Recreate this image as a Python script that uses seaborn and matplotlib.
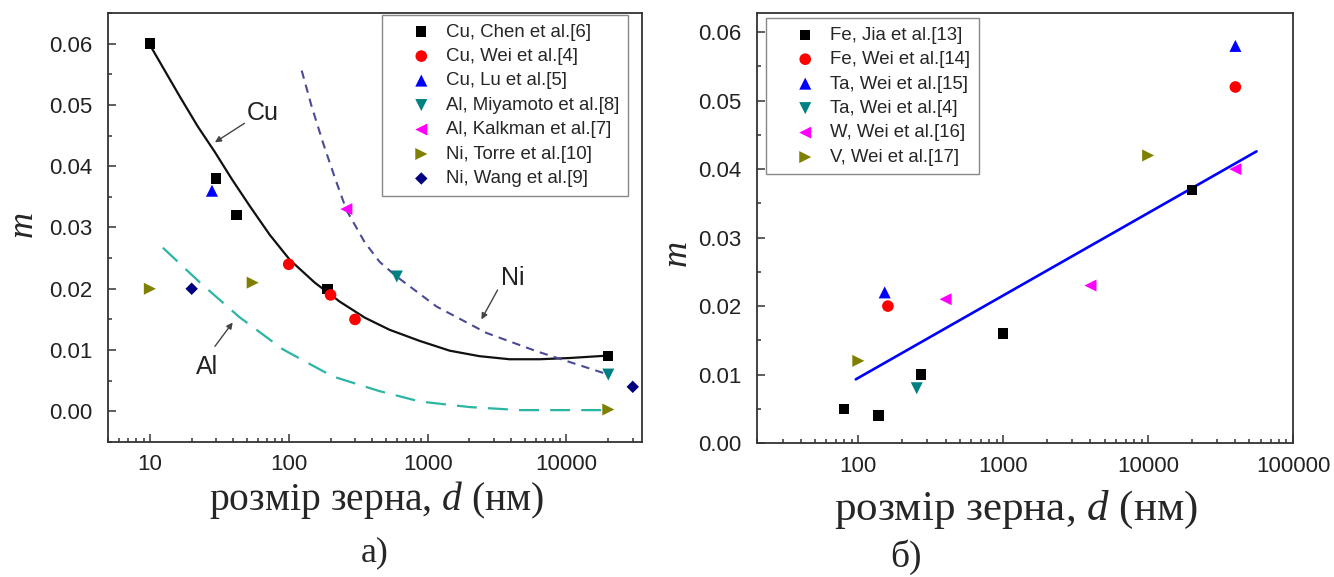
import matplotlib
matplotlib.use("Agg")
import matplotlib.pyplot as plt
import seaborn as sns
from matplotlib.ticker import FixedLocator, FixedFormatter, LogLocator, MultipleLocator, NullFormatter, FormatStrFormatter

# ---------------- panel а): measured strain-rate sensitivity ----------------
cu_chen_d = [10, 30, 42, 190, 20000]
cu_chen_m = [0.060, 0.038, 0.032, 0.020, 0.009]
cu_wei_d = [100, 200, 300]
cu_wei_m = [0.024, 0.019, 0.015]
cu_lu_d = [28]
cu_lu_m = [0.036]
al_miyamoto_d = [600, 20000]
al_miyamoto_m = [0.022, 0.006]
al_kalkman_d = [260]
al_kalkman_m = [0.033]
ni_torre_d = [10, 55, 20000]
ni_torre_m = [0.020, 0.021, 0.0003]
ni_wang_d = [20, 30000]
ni_wang_m = [0.020, 0.004]

# trend curves (panel а)
cu_curve_d = [10, 12.8, 16.4, 22.1, 29.4, 38.9, 52.4, 73, 102, 154, 233, 352, 533,
              875, 1440, 2365, 3890, 6400, 10500, 20000]
cu_curve_m = [0.0598, 0.0556, 0.0514, 0.0465, 0.0423, 0.0379, 0.0335, 0.0288, 0.0247,
              0.0210, 0.0179, 0.0153, 0.0133, 0.0115, 0.0099, 0.0090, 0.0085, 0.0085,
              0.0087, 0.0091]
al_curve_d = [12.4, 23, 44, 91, 207, 450, 880, 2000, 4600, 20000]
al_curve_m = [0.0267, 0.0210, 0.0154, 0.0101, 0.0057, 0.0033, 0.0016, 0.0007, 0.0002, 0.0002]
ni_curve_d = [124, 146, 179, 218, 261, 352, 451, 598, 1160, 2650, 6100, 20000]
ni_curve_m = [0.0556, 0.0498, 0.0434, 0.0377, 0.0328, 0.0276, 0.0244, 0.0220, 0.0171,
              0.0128, 0.0098, 0.0060]

# ---------------- panel б) ----------------
fe_jia_d = [80, 138, 270, 1000, 20000]
fe_jia_m = [0.005, 0.004, 0.010, 0.016, 0.037]
fe_wei_d = [160, 40000]
fe_wei_m = [0.020, 0.052]
ta_wei15_d = [152, 40000]
ta_wei15_m = [0.022, 0.058]
ta_wei4_d = [253]
ta_wei4_m = [0.008]
w_wei_d = [400, 4000, 40000]
w_wei_m = [0.021, 0.023, 0.040]
v_wei_d = [100, 10000]
v_wei_m = [0.012, 0.042]

fit_d = [96, 56000]
fit_m = [0.0093, 0.0426]

xticks_a = [10, 100, 1000, 10000]
xticks_b = [100, 1000, 10000, 100000]
yticks = [0.00, 0.01, 0.02, 0.03, 0.04, 0.05, 0.06]

series_a = [
    ("Cu, Chen et al.[6]", cu_chen_d, cu_chen_m, "s", "#000000", 55),
    ("Cu, Wei et al.[4]", cu_wei_d, cu_wei_m, "o", "#ff0000", 70),
    ("Cu, Lu et al.[5]", cu_lu_d, cu_lu_m, "^", "#0000ff", 75),
    ("Al, Miyamoto et al.[8]", al_miyamoto_d, al_miyamoto_m, "v", "#008080", 75),
    ("Al, Kalkman et al.[7]", al_kalkman_d, al_kalkman_m, "<", "#ff00ff", 75),
    ("Ni, Torre et al.[10]", ni_torre_d, ni_torre_m, ">", "#808000", 75),
    ("Ni, Wang et al.[9]", ni_wang_d, ni_wang_m, "D", "#000080", 40),
]
series_b = [
    ("Fe, Jia et al.[13]", fe_jia_d, fe_jia_m, "s", "#000000", 55),
    ("Fe, Wei et al.[14]", fe_wei_d, fe_wei_m, "o", "#ff0000", 70),
    ("Ta, Wei et al.[15]", ta_wei15_d, ta_wei15_m, "^", "#0000ff", 75),
    ("Ta, Wei et al.[4]", ta_wei4_d, ta_wei4_m, "v", "#008080", 75),
    ("W, Wei et al.[16]", w_wei_d, w_wei_m, "<", "#ff00ff", 75),
    ("V, Wei et al.[17]", v_wei_d, v_wei_m, ">", "#808000", 75),
]

sns.set_style("ticks")
plt.rcParams["font.family"] = ["Liberation Sans", "DejaVu Sans"]
plt.rcParams["mathtext.fontset"] = "custom"
plt.rcParams["mathtext.rm"] = "Liberation Serif"
plt.rcParams["mathtext.it"] = "Liberation Serif:italic"

SERIF = ["Liberation Serif", "DejaVu Serif"]
SPINE = "#333333"

fig = plt.figure(figsize=(13.34, 5.77), dpi=100)
ax_a = fig.add_axes([0.0810, 0.2340, 0.4003, 0.7435])
ax_b = fig.add_axes([0.5675, 0.2322, 0.4018, 0.7452])


def style_axes(ax, xlim, ylim, xt):
    ax.set_xscale("log")
    ax.set_xlim(*xlim)
    ax.set_ylim(*ylim)
    ax.xaxis.set_major_locator(FixedLocator(xt))
    ax.xaxis.set_major_formatter(FixedFormatter([str(v) for v in xt]))
    ax.xaxis.set_minor_locator(LogLocator(base=10, subs=range(2, 10), numticks=20))
    ax.xaxis.set_minor_formatter(NullFormatter())
    ax.yaxis.set_major_locator(FixedLocator(yticks))
    ax.yaxis.set_major_formatter(FormatStrFormatter("%.2f"))
    ax.yaxis.set_minor_locator(MultipleLocator(0.005))
    ax.tick_params(which="both", direction="in", top=False, right=False,
                   color=SPINE, width=1.1)
    ax.tick_params(which="major", length=6, labelsize=16, labelcolor="#222222")
    ax.tick_params(axis="y", which="major", pad=11)
    ax.tick_params(axis="x", which="major", pad=9)
    ax.tick_params(which="minor", length=3)
    for sp in ax.spines.values():
        sp.set_visible(True)
        sp.set_color(SPINE)
        sp.set_linewidth(1.3)


def draw_points(ax, series):
    for label, d, m, mk, col, size in series:
        sns.scatterplot(x=d, y=m, ax=ax, marker=mk, color=col, s=size,
                        edgecolor="none", linewidth=0, label=label, zorder=4)


# ---- panel а ----
sns.lineplot(x=cu_curve_d, y=cu_curve_m, ax=ax_a, color="#111111", linewidth=1.6,
             estimator=None, sort=False, zorder=3)
sns.lineplot(x=al_curve_d, y=al_curve_m, ax=ax_a, color="#2bb5a3", linewidth=1.6,
             estimator=None, sort=False, zorder=3)
ax_a.lines[-1].set_dashes([9, 5])
sns.lineplot(x=ni_curve_d, y=ni_curve_m, ax=ax_a, color="#4a4a96", linewidth=1.5,
             estimator=None, sort=False, zorder=3)
ax_a.lines[-1].set_dashes([4, 3])
draw_points(ax_a, series_a)
style_axes(ax_a, (5, 35000), (-0.005, 0.065), xticks_a)

arrow = dict(arrowstyle="-|>", color="#444444", lw=1.0, mutation_scale=9,
             shrinkA=0, shrinkB=0)
ax_a.annotate("", xy=(29.4, 0.0439), xytext=(48, 0.0470), arrowprops=arrow)
ax_a.text(65, 0.0486, "Cu", fontsize=18, color="#222222", ha="center", va="center")
ax_a.annotate("", xy=(39.5, 0.0145), xytext=(29.4, 0.0106), arrowprops=arrow)
ax_a.text(25.7, 0.0072, "Al", fontsize=18, color="#222222", ha="center", va="center")
ax_a.annotate("", xy=(2440, 0.0150), xytext=(3190, 0.0198), arrowprops=arrow)
ax_a.text(4080, 0.0218, "Ni", fontsize=18, color="#222222", ha="center", va="center")

leg_kw = dict(fontsize=13.4, frameon=True, fancybox=False, framealpha=1,
              edgecolor="#888888", borderpad=0.45, labelspacing=0.4,
              handlelength=3.3, handletextpad=-0.3, borderaxespad=0)
leg = ax_a.legend(loc="upper right", bbox_to_anchor=(0.974, 0.995), **leg_kw)
leg.get_frame().set_linewidth(1.0)

ax_a.set_ylabel("$m$", fontsize=26, va="center")
ax_a.yaxis.set_label_coords(-0.158, 0.505)
ax_a.set_xlabel("розмір зерна, $d$ (нм)", fontsize=28.5, family=SERIF, va="center")
ax_a.xaxis.set_label_coords(0.504, -0.135)

# ---- panel б ----
sns.lineplot(x=fit_d, y=fit_m, ax=ax_b, color="#0000ff", linewidth=1.9,
             estimator=None, sort=False, zorder=3)
draw_points(ax_b, series_b)
style_axes(ax_b, (20, 100000), (0.0, 0.0628), xticks_b)
leg = ax_b.legend(loc="upper left", bbox_to_anchor=(0.017, 0.988), **leg_kw)
leg.get_frame().set_linewidth(1.0)

ax_b.set_ylabel("$m$", fontsize=26, va="center")
ax_b.yaxis.set_label_coords(-0.149, 0.437)
ax_b.set_xlabel("розмір зерна, $d$ (нм)", fontsize=31, family=SERIF, va="center")
ax_b.xaxis.set_label_coords(0.483, -0.156)

fig.text(375 / 1334, 1 - 553 / 577, "а)", fontsize=26, family=SERIF,
         ha="center", va="center")
fig.text(906 / 1334, 1 - 557 / 577, "б)", fontsize=27, family=SERIF,
         ha="center", va="center")

fig.savefig("out.png", dpi=100)
